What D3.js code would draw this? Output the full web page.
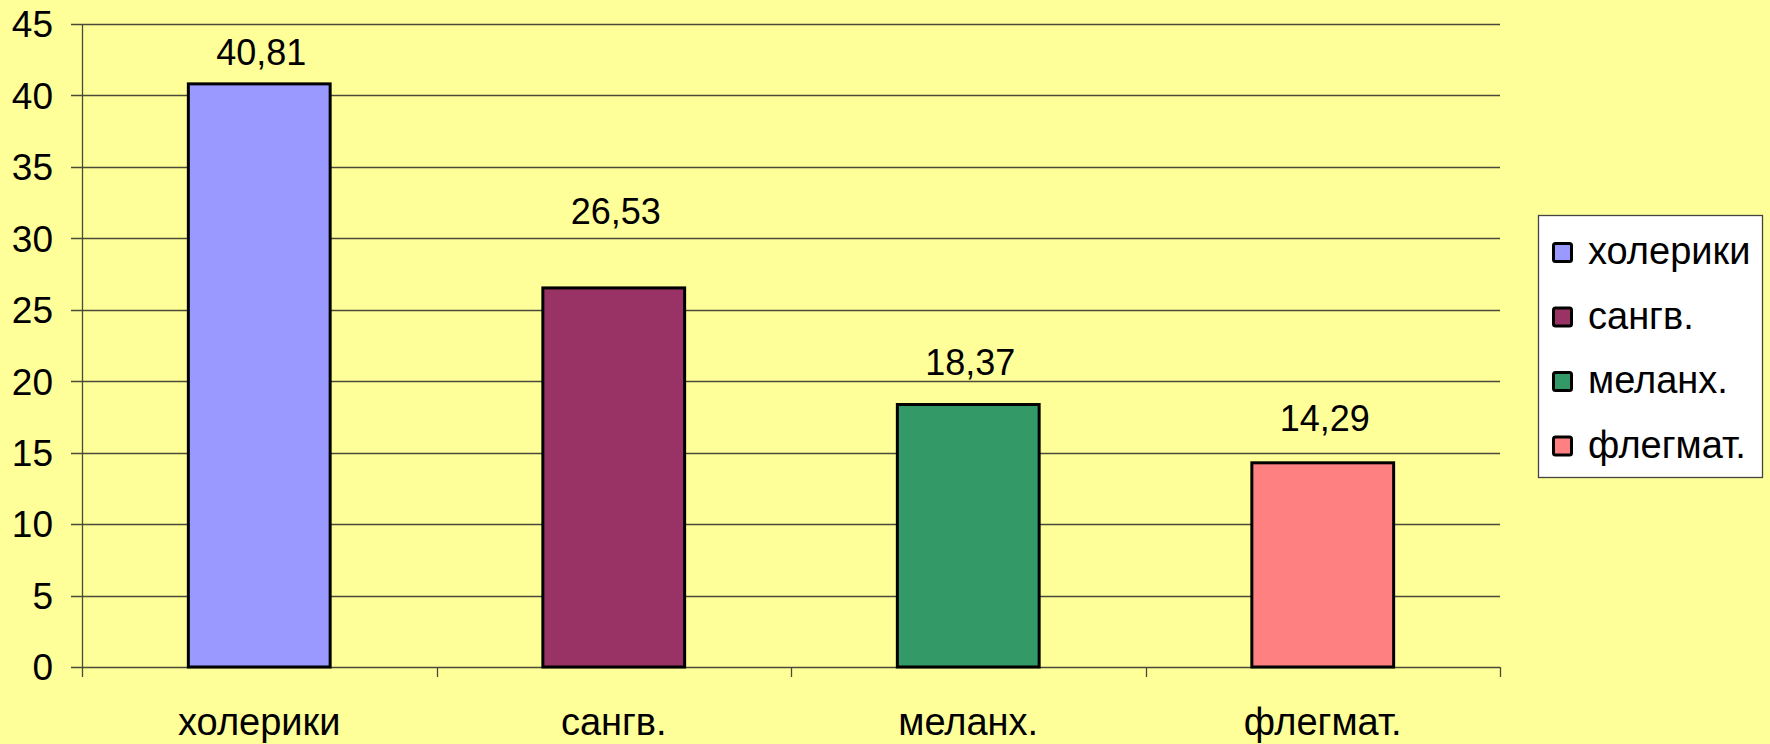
<!DOCTYPE html>
<html>
<head>
<meta charset="utf-8">
<script src="https://cdn.jsdelivr.net/npm/d3@7"></script>
<style>
  body { margin: 0; background: #ffff99; }
  svg { display: block; font-family: "Liberation Sans", Arial, sans-serif; }
</style>
</head>
<body>
<div id="chart"></div>
<script>
const categories = ["холерики", "сангв.", "меланх.", "флегмат."];
const values = [40.81, 26.53, 18.37, 14.29];
const valueLabels = ["40,81", "26,53", "18,37", "14,29"];
const colors = ["#9999ff", "#993366", "#339966", "#ff8080"];
const yTicks = [0, 5, 10, 15, 20, 25, 30, 35, 40, 45];

// layout: distance from bar top to label baseline (labels were hand-placed in the original)
const labelGap = [19, 64, 30, 32];

const width = 1770;
const height = 744;
const plotLeft = 82, plotRight = 1500, plotTop = 24, plotBottom = 667;

const svg = d3.select("#chart")
  .append("svg")
  .attr("width", width)
  .attr("height", height);

svg.append("rect").attr("width", width).attr("height", height).attr("fill", "#ffff99");

const x = d3.scaleBand().domain(categories).range([plotLeft, plotRight]).paddingInner(0.6).paddingOuter(0.3);
const y = d3.scaleLinear().domain([0, 45]).range([plotBottom, plotTop]);

// gridlines
svg.append("g")
  .selectAll("line")
  .data(yTicks)
  .join("line")
  .attr("x1", plotLeft - 11)
  .attr("x2", plotRight)
  .attr("y1", d => Math.round(y(d)) + 0.5)
  .attr("y2", d => Math.round(y(d)) + 0.5)
  .attr("stroke", "#4a4a3a")
  .attr("stroke-width", 1.3);

// y axis line
svg.append("line")
  .attr("x1", plotLeft + 0.5).attr("x2", plotLeft + 0.5)
  .attr("y1", plotTop).attr("y2", plotBottom + 10)
  .attr("stroke", "#4a4a3a").attr("stroke-width", 1.3);

// x category ticks at band boundaries
const step = (plotRight - plotLeft) / categories.length;
svg.append("g")
  .selectAll("line")
  .data(d3.range(1, categories.length + 1))
  .join("line")
  .attr("x1", i => Math.round(plotLeft + i * step) + 0.5)
  .attr("x2", i => Math.round(plotLeft + i * step) + 0.5)
  .attr("y1", plotBottom)
  .attr("y2", plotBottom + 10)
  .attr("stroke", "#4a4a3a").attr("stroke-width", 1.3);

// y tick labels
svg.append("g")
  .selectAll("text")
  .data(yTicks)
  .join("text")
  .attr("x", 53)
  .attr("y", d => y(d))
  .attr("dy", "0.36em")
  .attr("text-anchor", "end")
  .attr("font-size", 37)
  .text(d => d);

// bars
svg.append("g")
  .selectAll("rect")
  .data(values)
  .join("rect")
  .attr("x", (d, i) => x(categories[i]))
  .attr("y", d => y(d))
  .attr("width", x.bandwidth())
  .attr("height", d => y(0) - y(d))
  .attr("fill", (d, i) => colors[i])
  .attr("stroke", "#000")
  .attr("stroke-width", 3);

// value labels
svg.append("g")
  .selectAll("text")
  .data(values)
  .join("text")
  .attr("x", (d, i) => x(categories[i]) + x.bandwidth() / 2 + 2)
  .attr("y", (d, i) => y(d) - labelGap[i])
  .attr("text-anchor", "middle")
  .attr("font-size", 36)
  .text((d, i) => valueLabels[i]);

// category labels
svg.append("g")
  .selectAll("text")
  .data(categories)
  .join("text")
  .attr("x", d => x(d) + x.bandwidth() / 2)
  .attr("y", 735)
  .attr("text-anchor", "middle")
  .attr("font-size", 38)
  .text(d => d);

// legend
const legend = svg.append("g");
legend.append("rect")
  .attr("x", 1538.5).attr("y", 215.5)
  .attr("width", 224).attr("height", 262)
  .attr("fill", "#fff").attr("stroke", "#444").attr("stroke-width", 1.3);

const item = legend.selectAll("g.item")
  .data(categories)
  .join("g")
  .attr("class", "item")
  .attr("transform", (d, i) => `translate(1552, ${253 + i * 64.5})`);

item.append("rect")
  .attr("x", 1.5).attr("y", -9.5)
  .attr("width", 18).attr("height", 18)
  .attr("rx", 2)
  .attr("fill", (d, i) => colors[i])
  .attr("stroke", "#000").attr("stroke-width", 3);

item.append("text")
  .attr("x", 36)
  .attr("y", 0)
  .attr("dy", "0.3em")
  .attr("font-size", 38)
  .text(d => d);
</script>
</body>
</html>
